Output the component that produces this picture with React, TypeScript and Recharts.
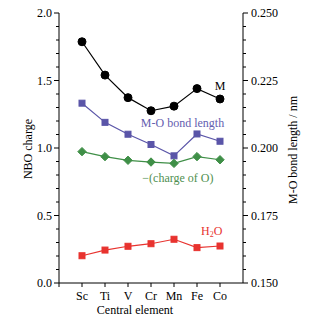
import React from 'react';
import { ComposedChart, Line, XAxis, YAxis, ReferenceDot } from 'recharts';

const elements = ['Sc', 'Ti', 'V', 'Cr', 'Mn', 'Fe', 'Co'];
const chargeM = [1.787, 1.54, 1.373, 1.276, 1.31, 1.44, 1.363];
const bondLength = [0.2166, 0.2095, 0.2051, 0.2013, 0.1971, 0.2052, 0.2025];
const chargeO = [0.973, 0.936, 0.909, 0.896, 0.886, 0.936, 0.913];
const chargeH2O = [0.202, 0.244, 0.272, 0.291, 0.324, 0.262, 0.274];

const leftTicks = Array.from({ length: 21 }, (_, i) => +(i * 0.1).toFixed(1));
const rightTicks = Array.from({ length: 21 }, (_, i) => +(0.15 + i * 0.005).toFixed(3));
const xTicks = [0, 1, 2, 3, 4, 5, 6, 7];

const data = elements.map((name, i) => ({
  x: i + 1,
  name,
  m: chargeM[i],
  bond: bondLength[i],
  o: chargeO[i],
  h2o: chargeH2O[i],
}));

const FONT = '"Liberation Serif", "Times New Roman", serif';

const LeftTick = (props: any) => {
  const { x, y, payload } = props;
  const v = payload.value;
  const major = Math.abs(v * 2 - Math.round(v * 2)) < 1e-6;
  return (
    <g>
      <line x1={x} x2={x - (major ? 5 : 3)} y1={y} y2={y} stroke="#000" strokeWidth={1} />
      {major && (
        <text x={x - 7} y={y} textAnchor="end" dominantBaseline="central" fontFamily={FONT} fontSize={12} fill="#000">
          {v.toFixed(1)}
        </text>
      )}
    </g>
  );
};

const RightTick = (props: any) => {
  const { x, y, payload } = props;
  const v = payload.value;
  const major = Math.abs(v * 40 - Math.round(v * 40)) < 1e-6;
  return (
    <g>
      <line x1={x} x2={x + (major ? 5 : 3)} y1={y} y2={y} stroke="#000" strokeWidth={1} />
      {major && (
        <text x={x + 8} y={y} textAnchor="start" dominantBaseline="central" fontFamily={FONT} fontSize={12} fill="#000">
          {v.toFixed(3)}
        </text>
      )}
    </g>
  );
};

const BottomTick = (props: any) => {
  const { x, y, payload } = props;
  const v = payload.value;
  const label = v >= 1 && v <= elements.length ? elements[v - 1] : '';
  return (
    <g>
      <line x1={x} x2={x} y1={y} y2={y + 4} stroke="#000" strokeWidth={1} />
      {label && (
        <text x={x} y={y + 13} textAnchor="middle" dominantBaseline="central" fontFamily={FONT} fontSize={12} fill="#000">
          {label}
        </text>
      )}
    </g>
  );
};

const Diamond = (props: any) => {
  const { cx, cy } = props;
  if (cx == null || cy == null) return null;
  const s = 4.2;
  return <path d={`M${cx},${cy - s}L${cx + s},${cy}L${cx},${cy + s}L${cx - s},${cy}Z`} fill="#3f8f47" stroke="#3f8f47" />;
};

const Square = (color: string) => (props: any) => {
  const { cx, cy } = props;
  if (cx == null || cy == null) return null;
  const s = 3;
  return <rect x={cx - s} y={cy - s} width={2 * s} height={2 * s} fill={color} stroke={color} />;
};

const textShape = (content: React.ReactNode, color: string) => (props: any) => (
  <text x={props.cx} y={props.cy} textAnchor="middle" dominantBaseline="central" fontFamily={FONT} fontSize={12} fill={color}>
    {content}
  </text>
);

export default function App() {
  return (
    <div style={{ marginTop: -4, width: 306, height: 324 }}>
      <ComposedChart
        width={306}
        height={324}
        data={data}
        margin={{ top: 9, right: 0, bottom: 0, left: 0 }}
        style={{ fontFamily: FONT }}
      >
        <XAxis
          dataKey="x"
          type="number"
          domain={[0, 8]}
          ticks={xTicks}
          interval={0}
          tickLine={false}
          tickSize={0}
          tickMargin={0}
          tick={<BottomTick />}
          axisLine={{ stroke: '#000', strokeWidth: 1 }}
          height={45}
          label={{ value: 'Central element', position: 'center', dx: -16, dy: 4, fontSize: 12, fill: '#000', fontFamily: FONT }}
        />
        <XAxis
          xAxisId="top"
          orientation="top"
          type="number"
          domain={[0, 8]}
          tick={false}
          tickLine={false}
          height={0}
          axisLine={{ stroke: '#000', strokeWidth: 1 }}
        />
        <YAxis
          yAxisId="left"
          domain={[0, 2]}
          ticks={leftTicks}
          interval={0}
          width={51}
          tickLine={false}
          tickSize={0}
          tickMargin={0}
          tick={<LeftTick />}
          axisLine={{ stroke: '#000', strokeWidth: 1 }}
          label={{ value: 'NBO charge', angle: -90, position: 'center', dx: -6, dy: 1, fontSize: 12, fill: '#000', fontFamily: FONT }}
        />
        <YAxis
          yAxisId="right"
          orientation="right"
          domain={[0.15, 0.25]}
          ticks={rightTicks}
          interval={0}
          width={71}
          tickLine={false}
          tickSize={0}
          tickMargin={0}
          tick={<RightTick />}
          axisLine={{ stroke: '#000', strokeWidth: 1 }}
          label={{ value: 'M-O bond length / nm', angle: -90, position: 'center', dx: 14, dy: 2, fontSize: 12, fill: '#000', fontFamily: FONT }}
        />
        <Line yAxisId="left" dataKey="m" stroke="#000" strokeWidth={1.2} isAnimationActive={false}
          dot={{ r: 4, fill: '#000', stroke: '#000', strokeWidth: 1 }} />
        <Line yAxisId="right" dataKey="bond" stroke="#5a55a8" strokeWidth={1.2} isAnimationActive={false}
          dot={Square('#5a55a8')} />
        <Line yAxisId="left" dataKey="o" stroke="#3f8f47" strokeWidth={1.2} isAnimationActive={false}
          dot={<Diamond />} />
        <Line yAxisId="left" dataKey="h2o" stroke="#e8332f" strokeWidth={1.2} isAnimationActive={false}
          dot={Square('#e8332f')} />
        <ReferenceDot yAxisId="left" x={7} y={1.46} r={0} shape={textShape('M', '#000')} />
        <ReferenceDot yAxisId="left" x={5.37} y={1.185} r={0} shape={textShape('M-O bond length', '#6560b0')} />
        <ReferenceDot yAxisId="left" x={5.17} y={0.776} r={0} shape={textShape('\u2212(charge of O)', '#4f8f50')} />
        <ReferenceDot
          yAxisId="left"
          x={6.64}
          y={0.385}
          r={0}
          shape={textShape(
            <>
              <tspan>H</tspan>
              <tspan fontSize={8} dy={3}>2</tspan>
              <tspan dy={-3}>O</tspan>
            </>,
            '#e8332f'
          )}
        />
      </ComposedChart>
    </div>
  );
}
